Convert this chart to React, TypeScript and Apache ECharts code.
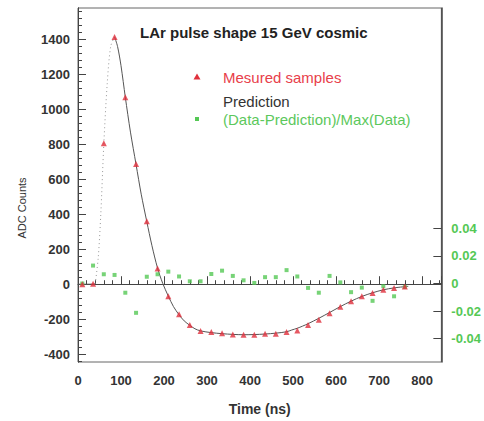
import React, { useEffect, useRef } from "react";
import * as echarts from "echarts";

// Sampled pulse (ADC counts) every 25 ns
const sampleTime = [10, 35, 60, 85, 110, 135, 160, 185, 210, 235, 260, 285, 310, 335, 360, 385, 410, 435, 460, 485, 510, 535, 560, 585, 610, 635, 660, 685, 710, 735, 760];
const sampleAdc = [0, 3, 806, 1414, 1069, 687, 360, 90, -69, -172, -233, -267, -274, -280, -287, -289, -289, -284, -284, -274, -265, -233, -203, -166, -129, -97, -69, -50, -32, -22, -13];

// (Data - Prediction) / Max(Data) at the same sample times
const residual = [0.0, 0.013, 0.0067, 0.0062, -0.0067, -0.0213, 0.0049, 0.0067, 0.0086, 0.0051, 0.0016, 0.0016, 0.0069, 0.0093, 0.0055, 0.0023, 0.0004, 0.0046, 0.0046, 0.0097, 0.0051, -0.0032, -0.0067, 0.0055, 0.0008, -0.0063, -0.003, -0.0126, -0.002, -0.0093, -0.0025];

// Predicted pulse shape
const predTime = [0, 25, 40, 47, 53, 60, 68, 76, 85, 92, 100, 110, 122, 135, 147, 160, 172, 185, 197, 210, 222, 235, 247, 260, 272, 285, 310, 335, 360, 385, 410, 435, 460, 485, 497, 510, 522, 535, 560, 585, 610, 635, 660, 685, 710, 735, 768];
const predAdc = [0, 0, 2, 150, 400, 800, 1150, 1360, 1415, 1360, 1250, 1070, 870, 685, 515, 358, 220, 92, 5, -68, -128, -175, -210, -235, -255, -267, -277, -283, -287, -289, -288, -285, -280, -272, -262, -252, -240, -226, -195, -162, -128, -97, -70, -49, -32, -21, -12];

// Steep leading edge drawn dotted
const riseStart = 40;
const riseEnd = 85;

const leftTicks = [-400, -200, 0, 200, 400, 600, 800, 1000, 1200, 1400];
const leftMinorTicks = [-440, -400, -360, -320, -280, -240, -200, -160, -120, -80, -40, 0, 40, 80, 120, 160, 200, 240, 280, 320, 360, 400, 440, 480, 520, 560, 600, 640, 680, 720, 760, 800, 840, 880, 920, 960, 1000, 1040, 1080, 1120, 1160, 1200, 1240, 1280, 1320, 1360, 1400, 1440, 1480, 1520, 1560];
const rightTicks = [-0.04, -0.02, 0, 0.02, 0.04];

const FONT = "Liberation Sans";
const RED = "#e0303c";
const GREEN = "#55c855";
const AXIS = "#444";

export default function App() {
  const ref = useRef<HTMLDivElement>(null);

  useEffect(() => {
    if (!ref.current) return;
    const chart = echarts.init(ref.current, null, { renderer: "svg" });

    const solidPred = predTime.map((t, i) => [t, t > riseStart && t < riseEnd ? "-" : predAdc[i]]);
    const risePred = predTime
      .map((t, i) => [t, predAdc[i]])
      .filter((p) => p[0] >= riseStart && p[0] <= riseEnd);

    const labelStyle = { fontFamily: FONT, fontSize: 13, fontWeight: "bold" as const, color: "#333" };

    chart.setOption({
      animation: false,
      backgroundColor: "#fff",
      grid: { left: 78, right: 41, top: 8, bottom: 50, show: true, borderColor: "#666", borderWidth: 1, backgroundColor: "transparent" },
      xAxis: {
        type: "value",
        min: 0,
        max: 845,
        interval: 100,
        axisLine: { show: true, lineStyle: { color: AXIS } },
        axisTick: { inside: true, length: 8, lineStyle: { color: AXIS } },
        minorTick: { show: true, splitNumber: 5, length: 4, lineStyle: { color: AXIS } },
        splitLine: { show: false },
        axisLabel: { ...labelStyle, margin: 12, formatter: (v: number) => (v % 100 === 0 ? String(v) : "") },
        name: "Time (ns)",
        nameLocation: "middle",
        nameGap: 40,
        nameTextStyle: { fontFamily: FONT, fontSize: 14, fontWeight: "bold", color: "#333" },
      },
      yAxis: [
        {
          type: "value",
          min: -445,
          max: 1580,
          axisLine: { show: true, lineStyle: { color: AXIS } },
          axisTick: { inside: true, length: 8, customValues: leftTicks, lineStyle: { color: AXIS } },
          axisLabel: { ...labelStyle, margin: 8, customValues: leftTicks, formatter: (v: number) => String(v) },
          splitLine: { show: false },
        },
        {
          type: "value",
          min: -445,
          max: 1580,
          position: "left",
          offset: 0,
          axisLine: { show: true, lineStyle: { color: AXIS } },
          axisTick: { show: true, inside: true, length: 4, customValues: leftMinorTicks, lineStyle: { color: AXIS } },
          axisLabel: { show: false },
          splitLine: { show: false },
        },
        {
          type: "value",
          min: -0.057,
          max: 0.2,
          position: "right",
          axisLine: { show: true, lineStyle: { color: AXIS, width: 1.5 } },
          axisTick: { inside: true, length: 8, customValues: rightTicks, lineStyle: { color: AXIS } },
          axisLabel: {
            fontFamily: FONT,
            fontSize: 13,
            fontWeight: "bold",
            color: GREEN,
            margin: 10,
            customValues: rightTicks,
            formatter: (v: number) => (Math.abs(v) < 1e-9 ? "0" : v.toFixed(2)),
          },
          splitLine: { show: false },
        },
      ],
      series: [
        {
          name: "Prediction",
          type: "line",
          data: solidPred,
          showSymbol: false,
          smooth: 0.3,
          connectNulls: false,
          lineStyle: { color: "#555", width: 1 },
          z: 2,
        },
        {
          name: "Prediction rise",
          type: "line",
          data: risePred,
          showSymbol: false,
          smooth: 0.3,
          lineStyle: { color: "#999", width: 1, type: [1, 3] },
          z: 2,
        },
        {
          name: "Mesured samples",
          type: "scatter",
          data: sampleTime.map((t, i) => [t, sampleAdc[i]]),
          symbol: "triangle",
          symbolSize: 6,
          itemStyle: { color: RED },
          z: 4,
        },
        {
          name: "(Data-Prediction)/Max(Data)",
          type: "scatter",
          yAxisIndex: 2,
          data: sampleTime.map((t, i) => [t, residual[i]]),
          symbol: "rect",
          symbolSize: 4,
          itemStyle: { color: GREEN },
          z: 3,
        },
      ],
      graphic: [
        {
          type: "text",
          left: 140,
          top: 25,
          style: { text: "LAr pulse shape 15 GeV cosmic", font: `bold 15px "${FONT}"`, fill: "#222" },
        },
        {
          type: "polygon",
          shape: { points: [[197, 73.5], [200.5, 79.5], [193.5, 79.5]] },
          style: { fill: RED },
        },
        {
          type: "text",
          x: 223,
          y: 77,
          style: { text: "Mesured samples", font: `15px "${FONT}"`, fill: "#e8404a", verticalAlign: "middle" },
        },
        {
          type: "text",
          x: 223,
          y: 101,
          style: { text: "Prediction", font: `15px "${FONT}"`, fill: "#333", verticalAlign: "middle" },
        },
        {
          type: "rect",
          shape: { x: 195, y: 117, width: 4, height: 4 },
          style: { fill: GREEN },
        },
        {
          type: "text",
          x: 223,
          y: 119,
          style: { text: "(Data-Prediction)/Max(Data)", font: `15px "${FONT}"`, fill: "#5cc85c", verticalAlign: "middle" },
        },
        {
          type: "text",
          x: 22,
          y: 208,
          rotation: Math.PI / 2,
          style: { text: "ADC Counts", font: `11px "${FONT}"`, fill: "#333", align: "center", verticalAlign: "middle" },
        },
      ],
    });

    return () => chart.dispose();
  }, []);

  return (
    <div
      ref={ref}
      style={{ position: "fixed", left: 0, top: 0, width: 484, height: 421, background: "#fff" }}
    />
  );
}
